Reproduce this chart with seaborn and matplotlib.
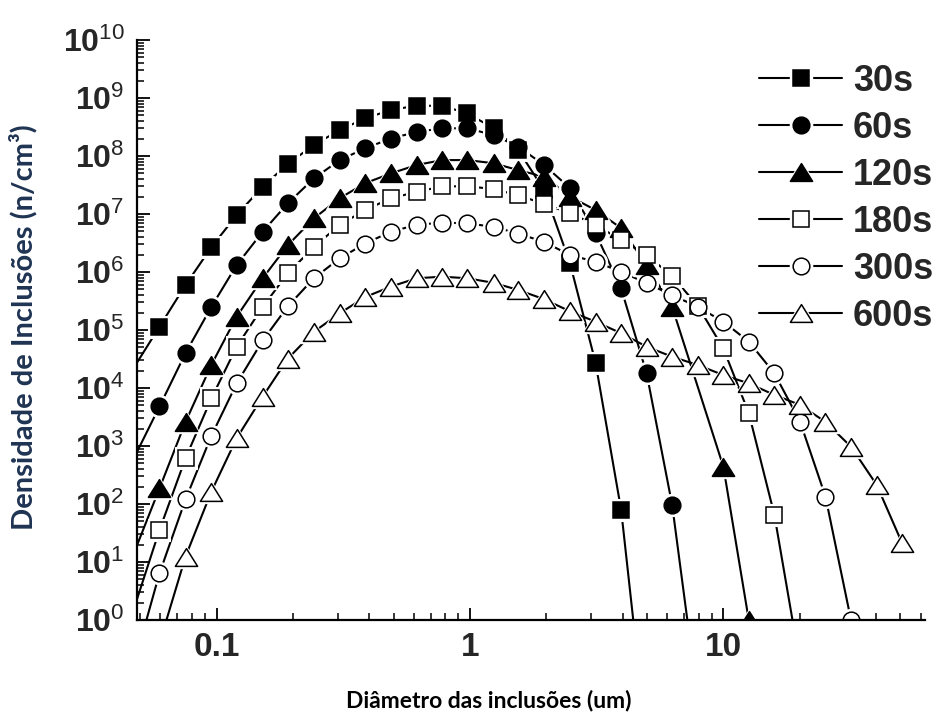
import numpy as np
import pandas as pd
import seaborn as sns
import matplotlib
matplotlib.use("Agg")
import matplotlib.pyplot as plt
from matplotlib.lines import Line2D
from matplotlib.path import Path
from matplotlib.legend_handler import HandlerTuple
from matplotlib.ticker import LogLocator, FixedLocator, FuncFormatter, NullFormatter

sns.set_theme(style="white")
plt.rcParams["font.family"] = ["Liberation Sans", "DejaVu Sans"]
plt.rcParams["mathtext.fontset"] = "custom"
plt.rcParams["mathtext.rm"] = "Liberation Sans"
plt.rcParams["mathtext.bf"] = "Liberation Sans:bold"
plt.rcParams["mathtext.default"] = "rm"

# ---------------- data ----------------
labels = ["30s", "60s", "120s", "180s", "300s", "600s"]

x_30 = [0.047, 0.0595, 0.0754, 0.0953, 0.120, 0.152, 0.191, 0.242, 0.306, 0.386, 0.487,
        0.616, 0.777, 0.976, 1.24, 1.55, 1.96, 2.48, 3.13, 3.95, 4.98]
y_30 = [2.2e4, 1.14e5, 5.97e5, 2.67e6, 9.6e6, 2.96e7, 7.3e7, 1.55e8, 2.8e8, 4.47e8, 6.2e8,
        7.4e8, 7.3e8, 5.45e8, 3.0e8, 1.27e8, 2.6e7, 1.43e6, 2.73e4, 79, 0.008]

x_60 = [0.047, 0.0595, 0.0754, 0.0953, 0.120, 0.152, 0.191, 0.242, 0.306, 0.386, 0.487,
        0.616, 0.777, 0.976, 1.24, 1.55, 1.96, 2.48, 3.13, 3.95, 4.98, 6.28, 7.93]
y_60 = [600, 4.8e3, 4.0e4, 2.5e5, 1.32e6, 4.95e6, 1.53e7, 4.1e7, 8.5e7, 1.36e8, 2.0e8,
        2.6e8, 3.0e8, 3.0e8, 2.3e8, 1.45e8, 7.0e7, 2.8e7, 4.7e6, 5.2e5, 1.79e4, 96, 0.043]

x_120 = [0.047, 0.0595, 0.0754, 0.0953, 0.120, 0.152, 0.191, 0.242, 0.306, 0.386, 0.487,
         0.616, 0.777, 0.976, 1.24, 1.55, 1.96, 2.48, 3.13, 3.95, 4.98, 6.28, 10.0, 12.6]
y_120 = [13.7, 186, 2.6e3, 2.5e4, 1.7e5, 7.8e5, 2.9e6, 8.4e6, 1.87e7, 3.4e7, 5.0e7,
         7.0e7, 8.5e7, 8.5e7, 7.5e7, 5.7e7, 4.4e7, 2.0e7, 1.17e7, 5.7e6, 1.32e6, 2.5e5, 440, 1.0]

x_180 = [0.047, 0.0595, 0.0754, 0.0953, 0.120, 0.152, 0.191, 0.242, 0.306, 0.386, 0.487,
         0.616, 0.777, 0.976, 1.24, 1.55, 1.96, 2.48, 3.13, 3.95, 4.98, 6.28, 7.93, 10.0,
         12.6, 15.9, 20.1]
y_180 = [1.5, 35.6, 614, 6.6e3, 5.15e4, 2.5e5, 9.5e5, 2.7e6, 6.5e6, 1.17e7, 1.87e7,
         2.4e7, 3.0e7, 3.0e7, 2.7e7, 2.1e7, 1.5e7, 1.03e7, 6.5e6, 3.56e6, 1.96e6, 8.5e5, 2.6e5,
         4.8e4, 3.7e3, 65, 0.17]

x_300 = [0.047, 0.0595, 0.0754, 0.0953, 0.120, 0.152, 0.191, 0.242, 0.306, 0.386, 0.487,
         0.616, 0.777, 0.976, 1.24, 1.55, 1.96, 2.48, 3.13, 3.95, 4.98, 6.28, 7.93, 10.0,
         12.6, 15.9, 20.1, 25.3, 31.9]
y_300 = [0.16, 6.4, 120, 1.49e3, 1.2e4, 6.6e4, 2.56e5, 7.8e5, 1.72e6, 3.1e6, 4.95e6,
         6.5e6, 7.1e6, 6.9e6, 6.0e6, 4.6e6, 3.3e6, 1.96e6, 1.5e6, 1.01e6, 6.4e5, 4.0e5, 2.5e5,
         1.39e5, 6.3e4, 1.79e4, 2.6e3, 134, 1.0]

x_600 = [0.0595, 0.0754, 0.0953, 0.120, 0.152, 0.191, 0.242, 0.306, 0.386, 0.487,
         0.616, 0.777, 0.976, 1.24, 1.55, 1.96, 2.48, 3.13, 3.95, 4.98, 6.28, 7.93, 10.0,
         12.6, 15.9, 20.1, 25.3, 31.9, 40.3, 50.8]
y_600 = [0.4, 12.4, 163, 1.36e3, 7.1e3, 3.2e4, 9.3e4, 1.94e5, 3.7e5, 5.6e5,
         7.8e5, 8.3e5, 7.8e5, 6.5e5, 4.9e5, 3.4e5, 2.1e5, 1.39e5, 8.8e4, 5.15e4, 3.46e4, 2.49e4,
         1.67e4, 1.2e4, 7.6e3, 5.1e3, 2.6e3, 973, 213, 21]

xs_all = [x_30, x_60, x_120, x_180, x_300, x_600]
ys_all = [y_30, y_60, y_120, y_180, y_300, y_600]

x_ticks = [0.1, 1, 10]
x_tick_labels = ["0.1", "1", "10"]
y_decades = list(range(0, 11))

# ---------------- styling ----------------
tri = Path([(-1, -0.8), (1, -0.8), (0, 0.8), (-1, -0.8)], closed=True)
markers = ["s", "o", tri, "s", "o", tri]
msizes = [11.2, 12.0, 16.0, 11.2, 12.0, 16.0]
faces = ["black", "black", "black", "white", "white", "white"]

XMIN, XMAX, YMIN, YMAX = 0.0485, 62.5, 1, 1e10

W, H = 936, 722
fig = plt.figure(figsize=(W / 100, H / 100), dpi=100)
L, R, T, B = 137, 925, 40, 620
ax = fig.add_axes([L / W, 1 - B / H, (R - L) / W, (B - T) / H])
ax.set_xscale("log")
ax.set_yscale("log")

for i, (xs, ys) in enumerate(zip(xs_all, ys_all)):
    df = pd.DataFrame({"x": xs, "y": ys})
    # symbols are only drawn for points inside the plotting frame
    dm = df[(df.x >= XMIN) & (df.y >= YMIN)]
    sns.lineplot(data=df, x="x", y="y", ax=ax, color="black", lw=1.5,
                 estimator=None, sort=False, legend=False, zorder=2)
    sns.lineplot(data=dm, x="x", y="y", ax=ax, linestyle="", marker=markers[i],
                 markersize=msizes[i] + 4, markerfacecolor="white", markeredgecolor="white",
                 estimator=None, sort=False, legend=False, zorder=3)
    sns.lineplot(data=dm, x="x", y="y", ax=ax, linestyle="", marker=markers[i],
                 markersize=msizes[i], markerfacecolor=faces[i], markeredgecolor="black",
                 markeredgewidth=1.1, estimator=None, sort=False, legend=False, zorder=4 + i)

ax.set_xlim(XMIN, XMAX)
ax.set_ylim(YMIN, YMAX)

for s in ["top", "right"]:
    ax.spines[s].set_visible(False)
for s in ["left", "bottom"]:
    ax.spines[s].set_linewidth(1.6)
    ax.spines[s].set_color("black")
    ax.spines[s].set_zorder(20)

ax.xaxis.set_major_locator(FixedLocator(x_ticks))
ax.xaxis.set_major_formatter(FuncFormatter(lambda v, p: x_tick_labels[x_ticks.index(v)] if v in x_ticks else ""))
ax.xaxis.set_minor_locator(LogLocator(base=10, subs=np.arange(2, 10)))
ax.xaxis.set_minor_formatter(NullFormatter())
ax.yaxis.set_major_locator(FixedLocator([10.0 ** d for d in y_decades]))
ax.yaxis.set_major_formatter(FuncFormatter(lambda v, p: r"$\mathbf{10}^{%d}$" % round(np.log10(v))))
ax.yaxis.set_minor_locator(LogLocator(base=10, subs=np.arange(2, 10), numticks=20))
ax.yaxis.set_minor_formatter(NullFormatter())

ax.tick_params(which="major", direction="in", length=9, width=1.3, color="black",
               pad=9, left=True, bottom=True)
ax.tick_params(which="minor", direction="in", length=5, width=1.1, color="black",
               left=True, bottom=True)
ax.tick_params(axis="x", labelsize=24)
ax.tick_params(axis="y", labelsize=23)
for t in ax.get_xticklabels():
    t.set_fontweight("bold")

ax.set_xlabel("Diâmetro das inclusões (um)", fontfamily=["Lato", "DejaVu Sans"],
              fontweight="bold", fontsize=16.5, color="black")
ax.xaxis.set_label_coords((489 - L) / (R - L), (B - 690) / (B - T))
ax.set_ylabel("Densidade de Inclusões (n/cm³)", fontfamily=["Lato", "DejaVu Sans"],
              fontweight="bold", fontsize=21, color="#1f3352")
ax.yaxis.set_label_coords((37 - L) / (R - L), (B - 327) / (B - T))

handles = []
for i in range(6):
    ln = Line2D([], [], color="black", lw=1.5)
    halo = Line2D([], [], ls="", marker=markers[i], ms=msizes[i] + 4, mfc="white", mec="white")
    mk = Line2D([], [], ls="", marker=markers[i], ms=msizes[i], mfc=faces[i], mec="black", mew=1.1)
    handles.append((ln, halo, mk))
ax.legend(handles, labels, loc="upper left", bbox_to_anchor=(759 / W, 1 - 64 / H),
          bbox_transform=fig.transFigure, frameon=False,
          prop={"family": "Liberation Sans", "weight": "bold", "size": 26},
          handlelength=2.3, handletextpad=0.3, labelspacing=0.33, borderpad=0,
          borderaxespad=0, handler_map={tuple: HandlerTuple(ndivide=1, pad=0)})

fig.savefig("out.png", dpi=100, facecolor="white")
